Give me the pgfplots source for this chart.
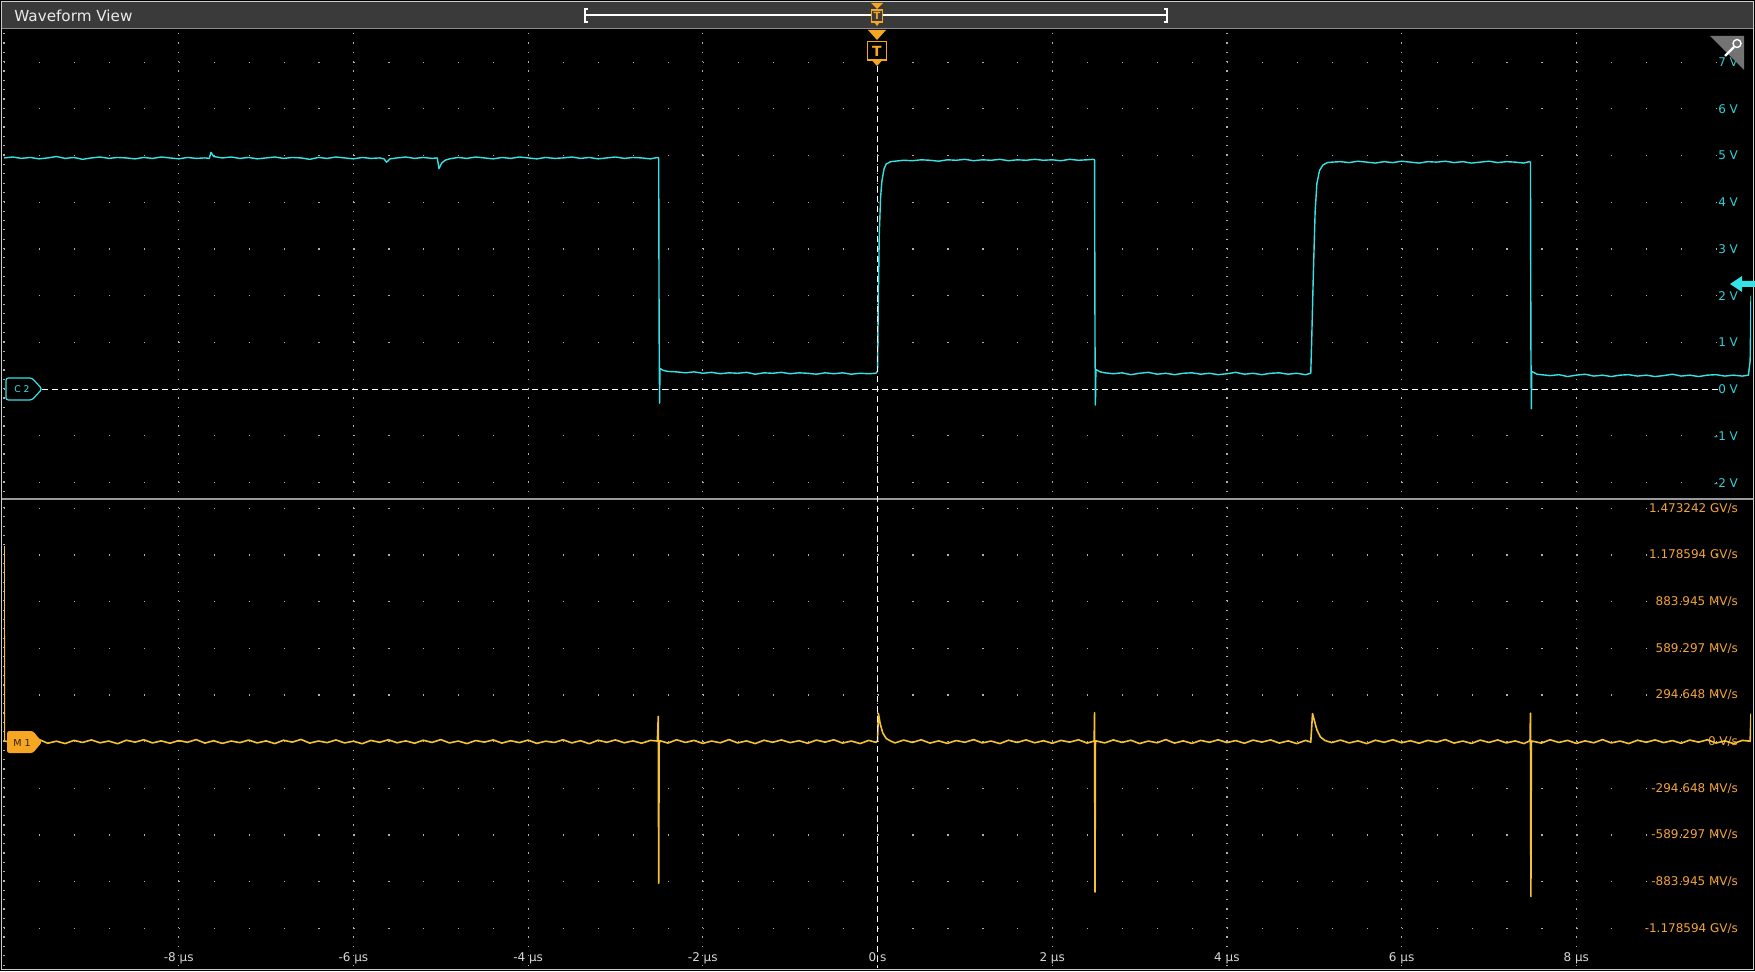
\documentclass[border=0pt]{standalone}
\usepackage{pgfplots}
\pgfplotsset{compat=1.18}
\usepackage{fontspec}
\setmainfont{DejaVu Sans}

\definecolor{barbg}{HTML}{3A3A3A}
\definecolor{ctrace}{HTML}{35E3E6}
\definecolor{clabel}{HTML}{2FD0D6}
\definecolor{mtrace}{HTML}{F4C232}
\definecolor{mlabel}{HTML}{F2A33A}
\definecolor{trig}{HTML}{F5A623}
\definecolor{dotc}{HTML}{B0B0B0}

% one slice of the waveform view
\pgfplotsset{scopeaxis/.style={
  scale only axis, width=873.5pt, height=234.5pt, anchor=south west,
  xmin=-10, xmax=10,
  axis line style={draw=none}, major tick length=0pt,
  xmajorgrids, ymajorgrids,
  xtick={-10,-8,...,8},
  major y grid style={dotc, line width=0.6pt, dash pattern=on 0.6pt off 16.87pt},
  yticklabel pos=right,
  yticklabel style={anchor=east, xshift=-3pt, font=\fontsize{6}{7}\selectfont},
}}

\begin{document}
\begin{tikzpicture}
\useasboundingbox (0pt,0pt) rectangle (877.5pt,485.5pt);
% background, frame, title bar
\begin{scope}[x=0.5pt,y=-0.5pt,shift={(0pt,485.5pt)}]
  \fill[black] (0,0) rectangle (1755,971);
  \fill[barbg] (2,2) rectangle (1753,28);
  \draw[white!55!black, line width=0.7pt] (2,28.5) -- (1753,28.5);
  \draw[white!80!black, line width=0.8pt] (1.5,1.5) rectangle (1753.5,969.5);
  \node[anchor=west, text=white!92!black, font=\fontsize{7.6}{8}\selectfont, inner sep=0pt] at (14,15.5) {Waveform View};
\end{scope}

% C2 slice
\begin{axis}[scopeaxis, at={(2pt,236.5pt)},
  ymin=-2.33, ymax=7.71, ytick={-2,...,7},
  yticklabels={-2 V,-1 V,0 V,1 V,2 V,3 V,4 V,5 V,6 V,7 V},
  yticklabel style={text=clabel},
  xticklabels={,,,,,,,,,},
  major x grid style={dotc, line width=0.6pt, dash pattern=on 0.6pt off 4.07pt, dash phase=1.64pt},
]
\draw[white, line width=0.5pt, dash pattern=on 3pt off 2pt] (axis cs:-9.565,0) -- (axis cs:9.645,0);
\addplot[ctrace, line width=0.7pt, line join=round] table {
-10.0 4.95
-9.9 4.97
-9.8 4.94
-9.7 4.96
-9.6 4.93
-9.5 4.95
-9.4 4.98
-9.3 4.94
-9.2 4.96
-9.1 4.92
-9.0 4.95
-8.9 4.97
-8.8 4.94
-8.7 4.96
-8.6 4.95
-8.5 4.93
-8.4 4.96
-8.3 4.94
-8.2 4.97
-8.1 4.95
-8.0 4.93
-7.9 4.96
-7.8 4.94
-7.7 4.95
-7.65 4.94
-7.63 5.07
-7.6 4.98
-7.5 4.95
-7.4 4.97
-7.3 4.94
-7.2 4.96
-7.1 4.93
-7.0 4.95
-6.9 4.97
-6.8 4.94
-6.7 4.96
-6.6 4.95
-6.5 4.92
-6.4 4.96
-6.3 4.94
-6.2 4.97
-6.1 4.95
-6.0 4.93
-5.9 4.96
-5.8 4.94
-5.7 4.95
-5.65 4.93
-5.62 4.86
-5.58 4.93
-5.5 4.95
-5.4 4.97
-5.3 4.94
-5.2 4.96
-5.1 4.94
-5.04 4.95
-5.02 4.72
-4.99 4.84
-4.95 4.90
-4.9 4.93
-4.8 4.96
-4.7 4.94
-4.6 4.97
-4.5 4.95
-4.4 4.93
-4.3 4.96
-4.2 4.94
-4.1 4.97
-4.0 4.95
-3.9 4.93
-3.8 4.96
-3.7 4.94
-3.6 4.95
-3.5 4.97
-3.4 4.94
-3.3 4.96
-3.2 4.93
-3.1 4.95
-3.0 4.97
-2.9 4.94
-2.8 4.96
-2.7 4.95
-2.6 4.93
-2.52 4.96
-2.505 4.95
-2.50 1.2
-2.495 -0.30
-2.49 0.44
-2.45 0.40
-2.4 0.38
-2.3 0.37
-2.2 0.35
-2.1 0.37
-2.0 0.34
-1.9 0.36
-1.8 0.33
-1.7 0.35
-1.6 0.34
-1.5 0.36
-1.4 0.32
-1.3 0.35
-1.2 0.34
-1.1 0.36
-1.0 0.33
-0.9 0.35
-0.8 0.34
-0.7 0.32
-0.6 0.35
-0.5 0.33
-0.4 0.35
-0.3 0.32
-0.2 0.34
-0.1 0.33
-0.02 0.34
0.0 0.38
0.01 2.0
0.02 3.3
0.035 4.1
0.05 4.45
0.075 4.72
0.1 4.82
0.15 4.87
0.2 4.88
0.3 4.90
0.4 4.89
0.5 4.91
0.6 4.90
0.7 4.88
0.8 4.91
0.9 4.90
1.0 4.92
1.1 4.89
1.2 4.91
1.3 4.90
1.4 4.92
1.5 4.89
1.6 4.91
1.7 4.90
1.8 4.92
1.9 4.90
2.0 4.91
2.1 4.89
2.2 4.92
2.3 4.90
2.4 4.91
2.47 4.92
2.485 4.91
2.49 1.0
2.495 -0.34
2.50 0.42
2.55 0.37
2.6 0.35
2.7 0.33
2.8 0.35
2.9 0.31
3.0 0.34
3.1 0.36
3.2 0.32
3.3 0.34
3.4 0.31
3.5 0.34
3.6 0.35
3.7 0.32
3.8 0.34
3.9 0.31
4.0 0.33
4.1 0.36
4.2 0.32
4.3 0.34
4.4 0.31
4.5 0.34
4.6 0.35
4.7 0.32
4.8 0.34
4.9 0.31
4.96 0.34
4.97 1.0
4.99 2.5
5.01 3.8
5.03 4.4
5.06 4.68
5.1 4.80
5.15 4.85
5.2 4.86
5.3 4.87
5.4 4.85
5.5 4.88
5.6 4.86
5.7 4.84
5.8 4.87
5.9 4.85
6.0 4.88
6.1 4.86
6.2 4.84
6.3 4.87
6.4 4.86
6.5 4.88
6.6 4.85
6.7 4.87
6.8 4.84
6.9 4.86
7.0 4.88
7.1 4.85
7.2 4.87
7.3 4.86
7.4 4.84
7.46 4.87
7.475 4.86
7.48 1.0
7.485 -0.42
7.49 0.38
7.55 0.32
7.6 0.31
7.7 0.29
7.8 0.31
7.9 0.27
8.0 0.30
8.1 0.32
8.2 0.28
8.3 0.30
8.4 0.27
8.5 0.30
8.6 0.31
8.7 0.28
8.8 0.30
8.9 0.27
9.0 0.29
9.1 0.32
9.2 0.28
9.3 0.30
9.4 0.27
9.5 0.30
9.6 0.31
9.7 0.28
9.8 0.30
9.9 0.28
9.97 0.30
9.99 0.6
10.0 2.0
};
\end{axis}

% M1 slice (dV/dt in MV/s)
\begin{axis}[scopeaxis, at={(2pt,1.5pt)},
  ymin=-1429, ymax=1532,
  ytick={-1178.594,-883.945,-589.297,-294.648,0,294.648,589.297,883.945,1178.594,1473.242},
  yticklabels={-1.178594 GV/s,-883.945 MV/s,-589.297 MV/s,-294.648 MV/s,0 V/s,294.648 MV/s,589.297 MV/s,883.945 MV/s,1.178594 GV/s,1.473242 GV/s},
  yticklabel style={text=mlabel},
  xticklabels={,-8 µs,-6 µs,-4 µs,-2 µs,0 s,2 µs,4 µs,6 µs,8 µs},
  xticklabel style={anchor=base, yshift=3.5pt, text=white!85!black, font=\fontsize{6}{7}\selectfont},
  major x grid style={dotc, line width=0.6pt, dash pattern=on 0.6pt off 4.07pt, dash phase=3.52pt},
]
\addplot[mtrace, line width=0.8pt, line join=round] table {
-10.0 1235
-9.995 5
-9.9 -8
-9.8 10
-9.7 -4
-9.6 14
-9.5 -10
-9.4 3
-9.3 -12
-9.2 8
-9.1 -5
-9.0 11
-8.9 -7
-8.8 4
-8.7 -13
-8.6 9
-8.5 -3
-8.4 12
-8.3 -8
-8.2 5
-8.1 -10
-8.0 7
-7.9 -4
-7.8 13
-7.7 -9
-7.6 6
-7.5 -11
-7.4 4
-7.3 -6
-7.2 10
-7.1 -8
-7.0 5
-6.9 -12
-6.8 9
-6.7 -3
-6.6 14
-6.5 -9
-6.4 4
-6.3 -6
-6.2 11
-6.1 -8
-6.0 3
-5.9 -13
-5.8 8
-5.7 -4
-5.6 12
-5.5 -7
-5.4 5
-5.3 -10
-5.2 9
-5.1 -5
-5.0 13
-4.9 -8
-4.8 4
-4.7 -12
-4.6 7
-4.5 -3
-4.4 11
-4.3 -9
-4.2 6
-4.1 -6
-4.0 10
-3.9 -11
-3.8 3
-3.7 -5
-3.6 12
-3.5 -8
-3.4 6
-3.3 -13
-3.2 9
-3.1 -4
-3.0 11
-2.9 -7
-2.8 5
-2.7 -10
-2.6 8
-2.52 4
-2.51 160
-2.505 -894
-2.50 -15
-2.49 6
-2.4 -9
-2.3 12
-2.2 -5
-2.1 8
-2.0 -11
-1.9 4
-1.8 -7
-1.7 13
-1.6 -8
-1.5 5
-1.4 -12
-1.3 9
-1.2 -4
-1.1 11
-1.0 -6
-0.9 6
-0.8 -10
-0.7 10
-0.6 -3
-0.5 12
-0.4 -9
-0.3 4
-0.2 -12
-0.1 8
-0.02 -4
0.0 3
0.01 179
0.03 115
0.06 55
0.1 20
0.15 4
0.2 -8
0.3 10
0.4 -5
0.5 12
0.6 -9
0.7 5
0.8 -11
0.9 7
1.0 -4
1.1 13
1.2 -8
1.3 4
1.4 -12
1.5 9
1.6 -5
1.7 11
1.8 -7
1.9 6
2.0 -10
2.1 8
2.2 -3
2.3 12
2.4 -9
2.48 4
2.485 183
2.49 -949
2.495 -10
2.5 5
2.6 -8
2.7 11
2.8 -5
2.9 9
3.0 -12
3.1 4
3.2 -7
3.3 13
3.4 -9
3.5 5
3.6 -11
3.7 8
3.8 -4
3.9 12
4.0 -6
4.1 7
4.2 -10
4.3 10
4.4 -3
4.5 11
4.6 -9
4.7 5
4.8 -12
4.9 8
4.96 -3
4.98 177
5.0 135
5.03 75
5.07 30
5.12 8
5.2 -6
5.3 10
5.4 -8
5.5 5
5.6 -12
5.7 9
5.8 -4
5.9 12
6.0 -7
6.1 6
6.2 -10
6.3 8
6.4 -3
6.5 13
6.6 -9
6.7 4
6.8 -11
6.9 10
7.0 -5
7.1 11
7.2 -8
7.3 5
7.4 -12
7.47 6
7.475 180
7.48 -978
7.485 -12
7.49 4
7.6 -9
7.7 12
7.8 -5
7.9 8
8.0 -11
8.1 5
8.2 -7
8.3 13
8.4 -8
8.5 4
8.6 -12
8.7 9
8.8 -4
8.9 11
9.0 -6
9.1 7
9.2 -10
9.3 10
9.4 -3
9.5 12
9.6 -9
9.7 5
9.8 -12
9.9 8
9.99 3
10.0 177
};
\end{axis}

% overlays: separator, trigger, channel badges, zoom icon
\begin{scope}[x=0.5pt,y=-0.5pt,shift={(0pt,485.5pt)}]
  \draw[white!60!black, line width=1pt] (2,498.5) -- (1753,498.5);
  \draw[white, line width=0.5pt, dash pattern=on 3pt off 2pt] (877.5,66) -- (877.5,968);
  % timebase bracket in the title bar
  \draw[white, line width=0.7pt] (588,9) -- (585,9) -- (585,22) -- (588,22);
  \draw[white, line width=0.7pt] (1164,9) -- (1167,9) -- (1167,22) -- (1164,22);
  \draw[white, line width=1pt] (585,15.5) -- (1167,15.5);
  \fill[trig] (871,3) -- (883,3) -- (877,9) -- cycle;
  \filldraw[fill=barbg, draw=trig, line width=0.7pt] (871.5,10) rectangle (882.5,22);
  \node[text=trig, font=\fontsize{5}{5}\bfseries\selectfont, inner sep=0pt] at (877,16) {T};
  \fill[trig] (874,22) -- (880,22) -- (877,26) -- cycle;
  % trigger position marker
  \fill[trig] (868,30) -- (886,30) -- (877,40) -- cycle;
  \filldraw[fill=black, draw=trig, line width=0.9pt] (867.5,41.5) rectangle (886.5,60);
  \node[text=trig, font=\fontsize{7}{7}\bfseries\selectfont, inner sep=0pt] at (877,51) {T};
  \fill[trig] (872,60.5) -- (882,60.5) -- (877,66) -- cycle;
  % channel badges
  \filldraw[fill=black, draw=ctrace, line width=0.6pt, rounded corners=1.2pt] (6,378) -- (32,378) -- (42,389) -- (32,400) -- (6,400) -- cycle;
  \node[text=ctrace, font=\fontsize{4.6}{5}\selectfont, inner sep=0pt] at (22,389.5) {C 2};
  \fill[trig, rounded corners=1.2pt] (7,731) -- (33,731) -- (42,742) -- (33,753) -- (7,753) -- cycle;
  \node[text=black!80!trig, font=\fontsize{4.8}{5}\selectfont, inner sep=0pt] at (22,742.5) {M 1};
  % trigger level arrow
  \fill[ctrace] (1730,284) -- (1742,276) -- (1742,281) -- (1755,281) -- (1755,287) -- (1742,287) -- (1742,292) -- cycle;
  % zoom corner icon
  \fill[white!45!black] (1710,36) -- (1744,36) -- (1744,70) -- cycle;
  \draw[white, line width=0.7pt] (1737,43.5) circle (4);
  \draw[white, line width=1.2pt] (1734,47) -- (1725,56);
\end{scope}
\end{tikzpicture}
\end{document}
